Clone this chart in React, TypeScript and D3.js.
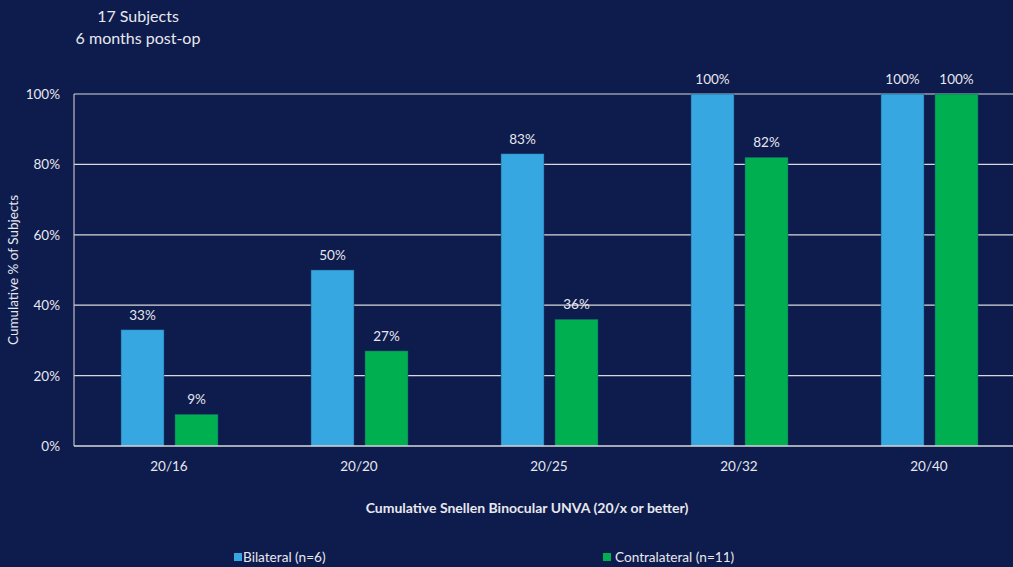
import React from "react";
import * as d3 from "d3";

const categories = ["20/16", "20/20", "20/25", "20/32", "20/40"];
const bilateral = [33, 50, 83, 100, 100];
const contralateral = [9, 27, 36, 82, 100];
const yTicks = [0, 20, 40, 60, 80, 100];
const seriesNames = ["Bilateral (n=6)", "Contralateral (n=11)"];
const titleLines = ["17 Subjects", "6 months post-op"];

const W = 1013;
const H = 567;
const BG = "#0d1b4d";
const BLUE = "#36a7e0";
const GREEN = "#00b050";
const TXT = "#e8e8ee";
const FONT = "Lato, 'Open Sans', sans-serif";

export default function App() {
  const x = d3.scaleBand<string>().domain(categories).range([74, 1024]).paddingInner(0).paddingOuter(0);
  const y = d3.scaleLinear().domain([0, 100]).range([446, 94]);
  const barW = 43;
  const gap = 11;
  const series = [
    { values: bilateral, color: BLUE, off: -gap / 2 - barW + 0.5 },
    { values: contralateral, color: GREEN, off: gap / 2 + 0.5 },
  ];
  const legend = [
    { name: seriesNames[0], color: BLUE, sx: 234, tx: 243 },
    { name: seriesNames[1], color: GREEN, sx: 603, tx: 615 },
  ];
  return (
    <svg width={W} height={H} style={{ display: "block", position: "absolute", left: 0, top: 0 }}>
      <rect x={0} y={0} width={W} height={H} fill={BG} />
      {titleLines.map((t, i) => (
        <text key={t} x={138} y={22 + i * 22} textAnchor="middle" fill={TXT} fontFamily={FONT} fontSize={16}>
          {t}
        </text>
      ))}
      {yTicks.map((v) => (
        <g key={v}>
          {v > 0 && <line x1={74} x2={W} y1={y(v)} y2={y(v)} stroke="#d9d9d9" strokeWidth={1.2} />}
          <text x={60} y={y(v) + 5} textAnchor="end" fill={TXT} fontFamily={FONT} fontSize={13.5}>
            {v}%
          </text>
        </g>
      ))}
      <text
        transform={`translate(18,270) rotate(-90)`}
        textAnchor="middle"
        fill={TXT}
        fontFamily={FONT}
        fontSize={13.5}
      >
        Cumulative % of Subjects
      </text>
      {categories.map((c, i) => {
        const cx = (x(c) as number) + x.bandwidth() / 2;
        return (
          <g key={c}>
            {series.map((s, j) => {
              const v = s.values[i];
              const bx = cx + s.off;
              return (
                <g key={j}>
                  <rect
                    x={bx}
                    y={y(v)}
                    width={barW}
                    height={y(0) - y(v)}
                    fill={s.color}
                    stroke="#1f4e79"
                    strokeWidth={0.5}
                  />
                  <text
                    x={bx + barW / 2}
                    y={y(v) - 10}
                    textAnchor="middle"
                    fill={TXT}
                    fontFamily={FONT}
                    fontSize={13.5}
                  >
                    {v}%
                  </text>
                </g>
              );
            })}
            <text x={cx} y={471} textAnchor="middle" fill={TXT} fontFamily={FONT} fontSize={13.5}>
              {c}
            </text>
          </g>
        );
      })}
      <line x1={74} x2={74} y1={94} y2={446} stroke="#bfbfbf" strokeWidth={1.2} />
      <line x1={74} x2={W} y1={446} y2={446} stroke="#d9d9d9" strokeWidth={1.5} />
      <text x={527} y={513} textAnchor="middle" fill={TXT} fontFamily={FONT} fontSize={14} fontWeight="bold">
        Cumulative Snellen Binocular UNVA (20/x or better)
      </text>
      {legend.map((l) => (
        <g key={l.name}>
          <rect x={l.sx} y={553} width={8} height={8} fill={l.color} />
          <text x={l.tx} y={562} fill={TXT} fontFamily={FONT} fontSize={13.6}>
            {l.name}
          </text>
        </g>
      ))}
    </svg>
  );
}
